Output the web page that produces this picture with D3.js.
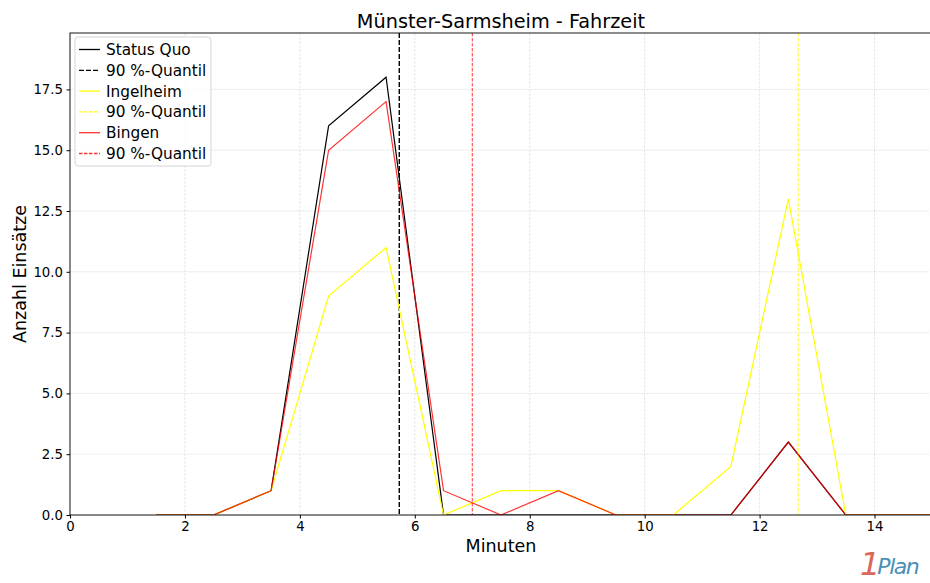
<!DOCTYPE html>
<html>
<head>
<meta charset="utf-8">
<script src="https://cdn.jsdelivr.net/npm/d3@7"></script>
<style>
  body { margin: 0; background: #fff; overflow: hidden; }
  text { font-family: "DejaVu Sans", sans-serif; }
</style>
</head>
<body>
<div id="chart"></div>
<script>
(function () {

  // data
  var minutes = [1.5, 2.5, 3.5, 4.5, 5.5, 6.5, 7.5, 8.5, 9.5, 10.5, 11.5, 12.5, 13.5, 14.5, 15.5]
  var statusQuo = [0, 0, 1, 16, 18, 0, 0, 0, 0, 0, 0, 3, 0, 0, 0]
  var ingelheim = [0, 0, 1, 9, 11, 0, 1, 1, 0, 0, 2, 13, 0, 0, 0]
  var bingen = [0, 0, 1, 15, 17, 1, 0, 1, 0, 0, 0, 3, 0, 0, 0]
  var quantiles = [5.73, 12.67, 7.0]   // Status Quo, Ingelheim, Bingen
  var seriesNames = ['Status Quo', 'Ingelheim', 'Bingen']
  var xTicks = [0, 2, 4, 6, 8, 10, 12, 14]
  var yTicks = [0, 2.5, 5, 7.5, 10, 12.5, 15, 17.5]

  var colors = ['#000000', '#ffff00', '#ff0000']
  var opac = [1, 1, 0.8]

  var margin = { top: 33, left: 70, bottom: 68 },
      width = 862,
      height = 583 - margin.top - margin.bottom

  var svg = d3.select("#chart")
      .append("svg")
      .attr("width", 930)
      .attr("height", 583)

  var g = svg.append("g")
      .attr("transform", "translate(" + margin.left + "," + margin.top + ")")

  var x = d3.scaleLinear().domain([0, 15]).range([0, width])
  var y = d3.scaleLinear().domain([0, 19.82]).range([height, 0])

  svg.append("defs").append("clipPath").attr("id", "clip")
    .append("rect").attr("width", width).attr("height", height)

  // grid
  g.selectAll(".gx").data(xTicks).enter().append("line")
    .attr("x1", function(d) { return x(d) }).attr("x2", function(d) { return x(d) })
    .attr("y1", 0).attr("y2", height)
    .attr("stroke", "#b0b0b0").attr("stroke-opacity", 0.35).attr("stroke-width", 0.8)
    .attr("stroke-dasharray", "3,1")
  g.selectAll(".gy").data(yTicks).enter().append("line")
    .attr("y1", function(d) { return y(d) }).attr("y2", function(d) { return y(d) })
    .attr("x1", 0).attr("x2", width)
    .attr("stroke", "#b0b0b0").attr("stroke-opacity", 0.35).attr("stroke-width", 0.8)
    .attr("stroke-dasharray", "3,1")

  var line = d3.line()
    .x(function(d) { return x(d[0]) })
    .y(function(d) { return y(d[1]) })

  var allSeries = [statusQuo, ingelheim, bingen]
  var plot = g.append("g").attr("clip-path", "url(#clip)")

  allSeries.forEach(function(vals, i) {
    plot.append("path")
      .datum(minutes.map(function(m, j) { return [m, vals[j]] }))
      .attr("d", line)
      .attr("fill", "none")
      .attr("stroke", colors[i])
      .attr("stroke-opacity", opac[i])
      .attr("stroke-width", 1.2)
    plot.append("line")
      .attr("x1", x(quantiles[i])).attr("x2", x(quantiles[i]))
      .attr("y1", 0).attr("y2", height)
      .attr("stroke", colors[i])
      .attr("stroke-opacity", opac[i])
      .attr("stroke-width", i == 0 ? 1.4 : 1)
      .attr("stroke-dasharray", i == 0 ? "5,2" : "3.5,1.5")
  })

  // axes
  var xAxis = d3.axisBottom(x).tickValues(xTicks).tickSize(3.5).tickPadding(3.5)
    .tickFormat(d3.format("d"))
  g.append("g")
    .attr("transform", "translate(0," + height + ")")
    .call(xAxis)
    .call(function(s) { s.select(".domain").remove() })
    .selectAll("text").attr("font-size", 13.3).attr("fill", "#000")

  var yAxis = d3.axisLeft(y).tickValues(yTicks).tickSize(3.5).tickPadding(3.5)
    .tickFormat(d3.format(".1f"))
  g.append("g")
    .call(yAxis)
    .call(function(s) { s.select(".domain").remove() })
    .selectAll("text").attr("font-size", 13.3).attr("fill", "#000")

  g.append("rect")
    .attr("width", width).attr("height", height)
    .attr("fill", "none").attr("stroke", "#000").attr("stroke-width", 0.9)

  // title and labels
  svg.append("text")
    .attr("x", 501).attr("y", 27.5)
    .attr("text-anchor", "middle").attr("font-size", 19.3)
    .text("Münster-Sarmsheim - Fahrzeit")

  svg.append("text")
    .attr("x", 501).attr("y", 552)
    .attr("text-anchor", "middle").attr("font-size", 17.5)
    .text("Minuten")

  svg.append("text")
    .attr("transform", "translate(26," + (margin.top + height / 2) + ") rotate(-90)")
    .attr("text-anchor", "middle").attr("font-size", 17.5)
    .text("Anzahl Einsätze")

  // legend
  var legendItems = []
  seriesNames.forEach(function(n, i) {
    legendItems.push({ label: n, color: colors[i], op: opac[i], dash: null })
    legendItems.push({ label: "90 %-Quantil", color: colors[i], op: opac[i], dash: i == 0 ? "5,2" : "3.5,1.5" })
  })

  var legend = svg.append("g").attr("transform", "translate(75,37)")
  legend.append("rect")
    .attr("width", 136).attr("height", 129).attr("rx", 3)
    .attr("fill", "#fff").attr("fill-opacity", 0.8)
    .attr("stroke", "#d0d0d0").attr("stroke-width", 0.9)

  legendItems.forEach(function(d, i) {
    var ly = 12.5 + i * 20.8
    legend.append("line")
      .attr("x1", 4).attr("x2", 25).attr("y1", ly).attr("y2", ly)
      .attr("stroke", d.color).attr("stroke-opacity", d.op)
      .attr("stroke-width", 1.3)
      .attr("stroke-dasharray", d.dash)
    legend.append("text")
      .attr("x", 31).attr("y", ly + 5.5)
      .attr("font-size", 15.3)
      .text(d.label)
  })

  // logo
  var logo = svg.append("text").attr("x", 860).attr("y", 575)
    .attr("font-family", "DejaVu Serif").attr("font-style", "italic")
  logo.append("tspan").attr("font-size", 32).attr("fill", "#d9685a").text("1")
  logo.append("tspan").attr("font-size", 22).attr("fill", "#4a8fb5")
    .attr("dx", -3).attr("dy", -1).attr("letter-spacing", -1.5).text("Plan")

})()
</script>
</body>
</html>
